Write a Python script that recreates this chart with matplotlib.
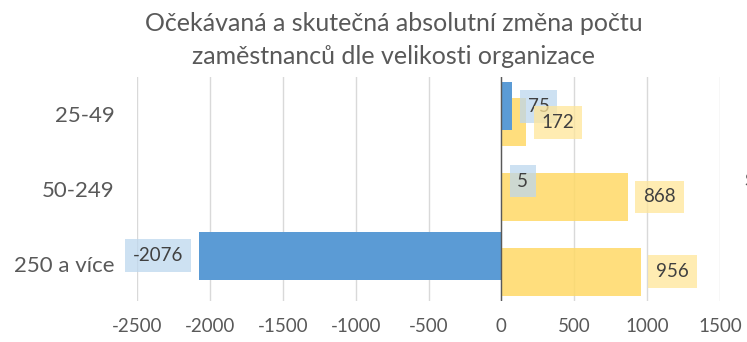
import numpy as np
import matplotlib.pyplot as plt

plt.rcParams['font.family'] = ['Lato', 'DejaVu Sans']
plt.rcParams['axes.unicode_minus'] = False

# data
categories = ['25-49', '50-249', '250 a více']
expected = [75, 5, -2076]      # blue series
actual = [172, 868, 956]       # yellow series
xticks = [-2500, -2000, -1500, -1000, -500, 0, 500, 1000, 1500]

blue = '#5B9BD5'
yellow = '#FFD966'
grey_txt = '#595959'

fig = plt.figure(figsize=(7.47, 3.42), dpi=100)
ax = fig.add_axes([137/747, 41/342, 583/747, 224/342])

y = np.arange(len(categories))
h = 0.645
off = 0.107

ax.barh(y + off, actual, height=h, color=yellow, alpha=0.85, zorder=2)
ax.barh(y - off, expected, height=h, color=blue, zorder=3)

def label(v, yy, face):
    sign = 1 if v >= 0 else -1
    ax.annotate(str(v), xy=(v, yy), xytext=(sign*11, 0), textcoords='offset points',
                ha='left' if sign > 0 else 'right', va='center',
                fontsize=13.5, color='#404040', zorder=5,
                bbox=dict(boxstyle='square,pad=0.42', fc=face, ec='none', alpha=0.75))

for i in range(len(categories)):
    label(expected[i], y[i] - off, '#BDD7EE')
    label(actual[i], y[i] + off, '#FFE699')

ax.set_xlim(-2500, 1500)
ax.set_ylim(2.5, -0.5)
ax.set_xticks(xticks)
ax.set_yticks(y)
ax.set_yticklabels(categories)
ax.xaxis.grid(True, color='#D9D9D9', linewidth=1, zorder=0)
ax.set_axisbelow(True)
ax.axvline(0, color='#595959', linewidth=1, zorder=4)
for s in ax.spines.values():
    s.set_visible(False)
ax.tick_params(axis='x', length=0, pad=12, labelsize=13.5, labelcolor=grey_txt)
ax.tick_params(axis='y', length=0, pad=16, labelsize=16, labelcolor=grey_txt)

fig.text(394/747, 1 - 40/342,
         'Očekávaná a skutečná absolutní změna počtu\nzaměstnanců dle velikosti organizace',
         ha='center', va='center', fontsize=18, color=grey_txt, linespacing=1.55)

# legend text, cut off at the right border
fig.text(744/747, 1 - 181/342, 'Skutečnost', fontsize=13, color=grey_txt, va='center')

fig.savefig('out.png', dpi=100)
